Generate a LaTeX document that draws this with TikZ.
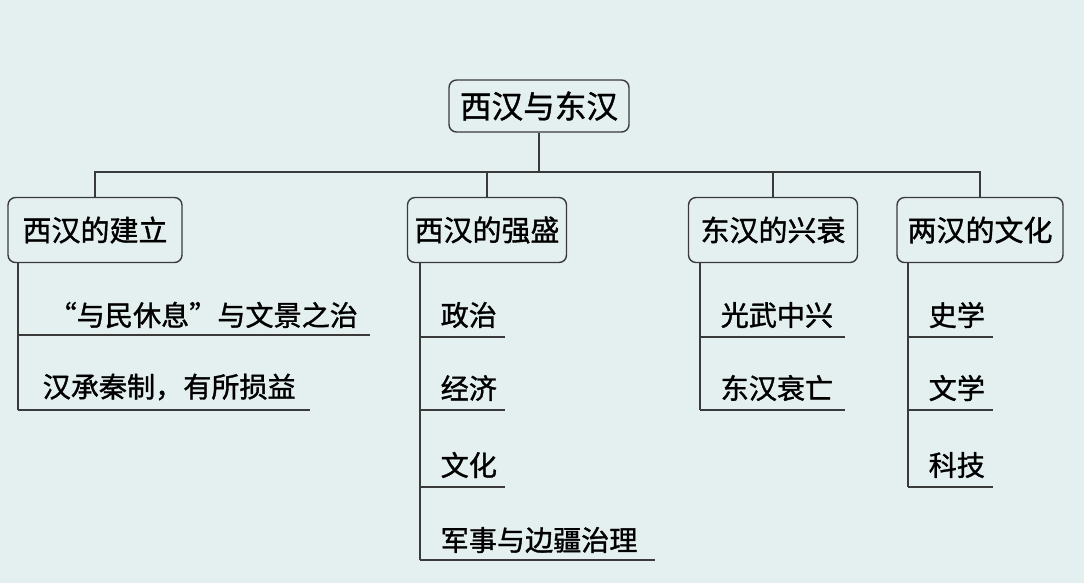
\documentclass[tikz,border=0pt]{standalone}
\usepackage{fontspec}
\newfontfamily\cjk{Noto Sans CJK SC}[FakeBold=1.2]
\definecolor{bgcol}{HTML}{E4EFEF}
\definecolor{inkcol}{HTML}{3A3A3A}
\begin{document}
\begin{tikzpicture}
    [x=0.02cm,y=-0.02cm,line width=0.8pt,draw=inkcol,
     box/.style={draw=inkcol, rectangle, rounded corners = .15cm, inner sep = 0pt, minimum height = 1.3cm, align = center, font=\cjk\fontsize{16.5}{18}\selectfont, text=black},
     item/.style={anchor=west, inner sep = 0pt, font=\cjk\fontsize{16}{18}\selectfont, text=black}]
  \fill[bgcol] (0,0) rectangle (1084,583);
  \useasboundingbox (0,0) rectangle (1084,583);
  \node[box, minimum width=3.6cm, minimum height=1.04cm, font=\cjk\fontsize{18}{20}\selectfont] (root) at (539,106) {西汉与东汉};
  \node[box, minimum width=3.48cm] (b1) at (95,230) {西汉的建立};
  \node[box, minimum width=3.18cm] (b2) at (487,230) {西汉的强盛};
  \node[box, minimum width=3.38cm] (b3) at (773,230) {东汉的兴衰};
  \node[box, minimum width=3.32cm] (b4) at (980,230) {两汉的文化};

  \coordinate (bus) at (539,172);
  \draw (root.south) -- (bus);
  \draw (b1.north) |- (bus) -| (b4.north);
  \foreach \b in {b2,b3}
    \draw (b1.north |- bus) -- (\b.north |- bus) -- (\b.north);

  % sub items
  \node[item] (i11) at (48,315) {“与民休息”与文景之治};
  \node[item] (i12) at (42,387) {汉承秦制，有所损益};
  \node[item] (i21) at (440,315) {政治};
  \node[item] (i22) at (440,388) {经济};
  \node[item] (i23) at (440,465) {文化};
  \node[item] (i24) at (440,540) {军事与边疆治理};
  \node[item] (i31) at (720,315) {光武中兴};
  \node[item] (i32) at (720,388) {东汉衰亡};
  \node[item] (i41) at (928,315) {史学};
  \node[item] (i42) at (928,388) {文学};
  \node[item] (i43) at (928,465) {科技};

  \foreach \n/\lx/\ly/\ex in {u11/18/335/370, u12/18/410/310,
      u21/420/337/505, u22/420/410/505, u23/420/487/505, u24/420/560/655,
      u31/700/337/845, u32/700/410/845,
      u41/908/337/993, u42/908/410/993, u43/908/487/993}
    \draw (\lx,\ly) coordinate (\n) -- (\ex,\ly);

  \draw (b1.south -| u11) -- (u12);
  \draw (b2.south -| u21) -- (u24);
  \draw (b3.south -| u31) -- (u32);
  \draw (b4.south -| u41) -- (u43);
\end{tikzpicture}
\end{document}
